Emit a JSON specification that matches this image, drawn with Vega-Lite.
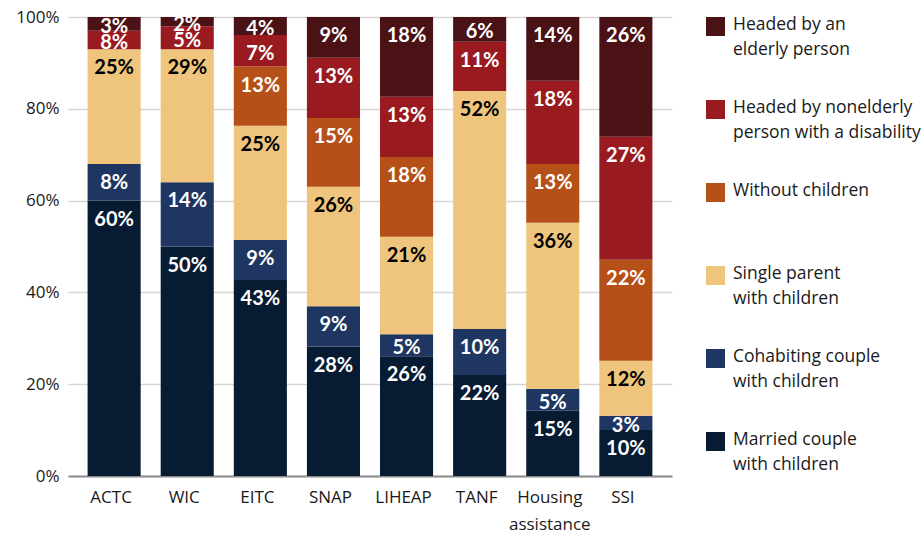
{
  "$schema": "https://vega.github.io/schema/vega-lite/v6.json",
  "width": 604,
  "height": 459,
  "autosize": {"type": "none"},
  "padding": {"left": 68, "top": 17, "right": 250, "bottom": 62},
  "config": {"view": {"stroke": null}, "font": "Open Sans"},
  "data": {
    "values": [
      {"program": "ACTC", "group": "Married couple with children", "value": 60, "label": "60%"},
      {"program": "ACTC", "group": "Cohabiting couple with children", "value": 8, "label": "8%"},
      {"program": "ACTC", "group": "Single parent with children", "value": 25, "label": "25%"},
      {"program": "ACTC", "group": "Headed by nonelderly person with a disability", "value": 4, "label": "8%"},
      {"program": "ACTC", "group": "Headed by an elderly person", "value": 3, "label": "3%"},
      {"program": "WIC", "group": "Married couple with children", "value": 50, "label": "50%"},
      {"program": "WIC", "group": "Cohabiting couple with children", "value": 14, "label": "14%"},
      {"program": "WIC", "group": "Single parent with children", "value": 29, "label": "29%"},
      {"program": "WIC", "group": "Headed by nonelderly person with a disability", "value": 5, "label": "5%"},
      {"program": "WIC", "group": "Headed by an elderly person", "value": 2, "label": "2%"},
      {"program": "EITC", "group": "Married couple with children", "value": 42.7, "label": "43%"},
      {"program": "EITC", "group": "Cohabiting couple with children", "value": 8.7, "label": "9%"},
      {"program": "EITC", "group": "Single parent with children", "value": 24.9, "label": "25%"},
      {"program": "EITC", "group": "Without children", "value": 12.9, "label": "13%"},
      {"program": "EITC", "group": "Headed by nonelderly person with a disability", "value": 6.9, "label": "7%"},
      {"program": "EITC", "group": "Headed by an elderly person", "value": 3.9, "label": "4%"},
      {"program": "SNAP", "group": "Married couple with children", "value": 28.2, "label": "28%"},
      {"program": "SNAP", "group": "Cohabiting couple with children", "value": 8.8, "label": "9%"},
      {"program": "SNAP", "group": "Single parent with children", "value": 26, "label": "26%"},
      {"program": "SNAP", "group": "Without children", "value": 15, "label": "15%"},
      {"program": "SNAP", "group": "Headed by nonelderly person with a disability", "value": 13.1, "label": "13%"},
      {"program": "SNAP", "group": "Headed by an elderly person", "value": 8.9, "label": "9%"},
      {"program": "LIHEAP", "group": "Married couple with children", "value": 26.1, "label": "26%"},
      {"program": "LIHEAP", "group": "Cohabiting couple with children", "value": 4.8, "label": "5%"},
      {"program": "LIHEAP", "group": "Single parent with children", "value": 21.2, "label": "21%"},
      {"program": "LIHEAP", "group": "Without children", "value": 17.4, "label": "18%"},
      {"program": "LIHEAP", "group": "Headed by nonelderly person with a disability", "value": 13.1, "label": "13%"},
      {"program": "LIHEAP", "group": "Headed by an elderly person", "value": 17.4, "label": "18%"},
      {"program": "TANF", "group": "Married couple with children", "value": 22, "label": "22%"},
      {"program": "TANF", "group": "Cohabiting couple with children", "value": 10, "label": "10%"},
      {"program": "TANF", "group": "Single parent with children", "value": 51.9, "label": "52%"},
      {"program": "TANF", "group": "Headed by nonelderly person with a disability", "value": 10.7, "label": "11%"},
      {"program": "TANF", "group": "Headed by an elderly person", "value": 5.4, "label": "6%"},
      {"program": "Housing assistance", "group": "Married couple with children", "value": 14.2, "label": "15%"},
      {"program": "Housing assistance", "group": "Cohabiting couple with children", "value": 4.8, "label": "5%"},
      {"program": "Housing assistance", "group": "Single parent with children", "value": 36.2, "label": "36%"},
      {"program": "Housing assistance", "group": "Without children", "value": 12.8, "label": "13%"},
      {"program": "Housing assistance", "group": "Headed by nonelderly person with a disability", "value": 18.1, "label": "18%"},
      {"program": "Housing assistance", "group": "Headed by an elderly person", "value": 13.9, "label": "14%"},
      {"program": "SSI", "group": "Married couple with children", "value": 10, "label": "10%"},
      {"program": "SSI", "group": "Cohabiting couple with children", "value": 3.1, "label": "3%"},
      {"program": "SSI", "group": "Single parent with children", "value": 12, "label": "12%"},
      {"program": "SSI", "group": "Without children", "value": 22, "label": "22%"},
      {"program": "SSI", "group": "Headed by nonelderly person with a disability", "value": 26.8, "label": "27%"},
      {"program": "SSI", "group": "Headed by an elderly person", "value": 26.1, "label": "26%"}
    ]
  },
  "transform": [
    {"calculate": "indexof(['Married couple with children','Cohabiting couple with children','Single parent with children','Without children','Headed by nonelderly person with a disability','Headed by an elderly person'], datum.group)", "as": "rank"},
    {"stack": "value", "groupby": ["program"], "sort": [{"field": "rank", "order": "ascending"}], "as": ["v0", "v1"]},
    {"calculate": "(datum.v0 + datum.v1) / 2", "as": "vmid"}
  ],
  "encoding": {
    "x": {
      "field": "program",
      "type": "nominal",
      "sort": ["ACTC", "WIC", "EITC", "SNAP", "LIHEAP", "TANF", "Housing assistance", "SSI"],
      "scale": {"paddingInner": 0.274, "paddingOuter": 0.268},
      "axis": {
        "title": null,
        "labelAngle": 0,
        "labelFontSize": 17,
        "labelColor": "#1a1a1a",
        "labelPadding": 13,
        "labelLineHeight": 27,
        "labelOffset": -3,
        "ticks": false,
        "domainColor": "#8c8c8c",
        "domainWidth": 2,
        "labelExpr": "datum.label == 'Housing assistance' ? ['Housing', 'assistance'] : datum.label"
      }
    }
  },
  "layer": [
    {
      "mark": {"type": "bar"},
      "encoding": {
        "y": {
          "field": "v0",
          "type": "quantitative",
          "scale": {"domain": [0, 100], "nice": false},
          "axis": {
            "title": null,
            "values": [0, 20, 40, 60, 80, 100],
            "labelExpr": "datum.value + '%'",
            "labelFontSize": 17,
            "labelColor": "#1a1a1a",
            "labelPadding": 9,
            "ticks": false,
            "domain": false,
            "gridColor": "#d6d6d6",
            "gridWidth": 1.5
          }
        },
        "y2": {"field": "v1"},
        "color": {
          "field": "group",
          "type": "nominal",
          "scale": {
            "domain": ["Headed by an elderly person", "Headed by nonelderly person with a disability", "Without children", "Single parent with children", "Cohabiting couple with children", "Married couple with children"],
            "range": ["#4a1214", "#9a1b1f", "#b55018", "#efc57e", "#1e3661", "#071b32"]
          },
          "legend": {
            "title": null,
            "orient": "right",
            "offset": 34,
            "padding": 0,
            "symbolType": "square",
            "symbolSize": 361,
            "symbolStrokeWidth": 0,
            "symbolOpacity": 1,
            "labelFontSize": 17.5,
            "labelColor": "#1a1a1a",
            "labelLimit": 260,
            "labelBaseline": "top",
            "labelOffset": 8,
            "rowPadding": 40,
            "labelExpr": "datum.label == 'Headed by an elderly person' ? ['Headed by an', 'elderly person'] : datum.label == 'Headed by nonelderly person with a disability' ? ['Headed by nonelderly', 'person with a disability'] : datum.label == 'Single parent with children' ? ['Single parent', 'with children'] : datum.label == 'Cohabiting couple with children' ? ['Cohabiting couple', 'with children'] : datum.label == 'Married couple with children' ? ['Married couple', 'with children'] : ['Without children', '']",
            "encode": {"labels": {"update": {"lineHeight": {"value": 25}, "dy": {"value": -11}}}}
          }
        }
      }
    },
    {
      "transform": [{"filter": "datum.value >= 7.5"}],
      "mark": {"type": "text", "baseline": "middle", "dy": 19, "fontWeight": "bold", "fontSize": 20, "font": "Lato"},
      "encoding": {
        "y": {"field": "v1", "type": "quantitative"},
        "text": {"field": "label"},
        "color": {"condition": {"test": "datum.group == 'Single parent with children'", "value": "#000000"}, "value": "#ffffff"}
      }
    },
    {
      "transform": [{"filter": "datum.value < 7.5"}],
      "mark": {"type": "text", "baseline": "middle", "dy": 3, "fontWeight": "bold", "fontSize": 20, "font": "Lato"},
      "encoding": {
        "y": {"field": "vmid", "type": "quantitative"},
        "text": {"field": "label"},
        "color": {"condition": {"test": "datum.group == 'Single parent with children'", "value": "#000000"}, "value": "#ffffff"}
      }
    }
  ]
}
